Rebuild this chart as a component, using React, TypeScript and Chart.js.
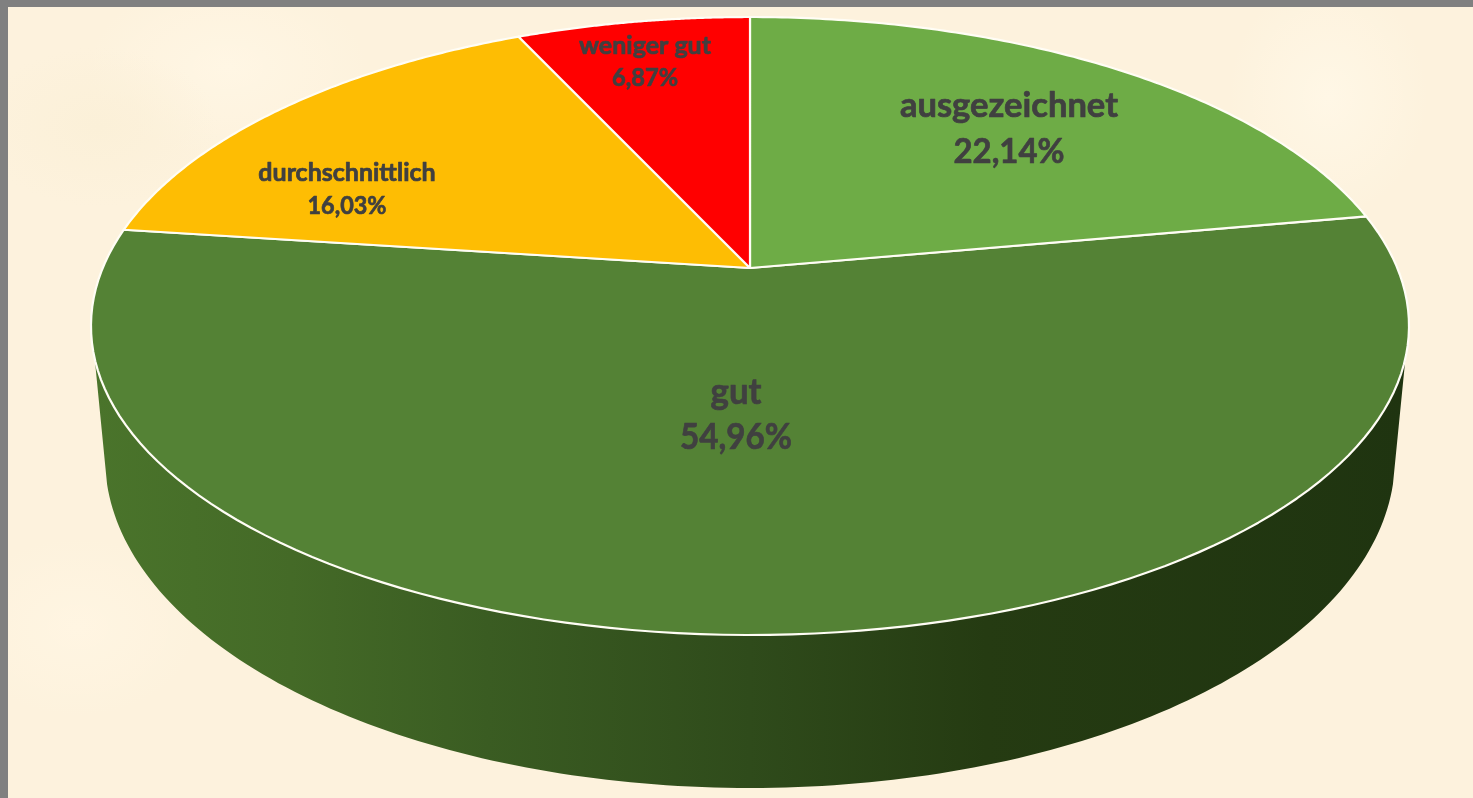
import React, { useEffect, useRef } from "react";
import { Chart, registerables } from "chart.js";

Chart.register(...registerables);

// --- data ---
const categories = ["ausgezeichnet", "gut", "durchschnittlich", "weniger gut"];
const shares = [22.14, 54.96, 16.03, 6.87];

// --- styles ---
const sliceColors = ["#6EAC46", "#548235", "#FEBD03", "#FF0000"];
const labelFontSizes = [35, 37, 25, 25];
const labelWidths = [
  [218, 111],
  [51, 112],
  [179, 79],
  [132, 66],
];
const labelCentres = [
  [1009, 106, 152],
  [736, 392, 437],
  [347, 173, 206],
  [645, 46, 78],
];

// --- perspective of the pie's top face: unit disc -> page ---
const APEX_X = 750;
const APEX_Y = 268;
const SCALE_X = 647.3;
const SCALE_Y = 298.1;
const TILT = -0.1877;

const project = (u: number, v: number): [number, number] => {
  const d = 1 + TILT * v;
  return [APEX_X + (SCALE_X * u) / d, APEX_Y + (SCALE_Y * v) / d];
};
const rim = (angle: number): [number, number] => {
  const t = angle + Math.PI / 2;
  return project(Math.sin(t), -Math.cos(t));
};

const tracePlugin = {
  id: "perspectivePie",
  beforeDatasetDraw(chart: any) {
    const ctx = chart.ctx as CanvasRenderingContext2D;
    const arcs = chart.getDatasetMeta(0).data as any[];

    // side wall under the front rim
    ctx.save();
    const wall = ctx.createLinearGradient(95, 0, 1405, 0);
    wall.addColorStop(0, "#4a742b");
    wall.addColorStop(0.15, "#446a27");
    wall.addColorStop(0.3, "#3a5c22");
    wall.addColorStop(0.5, "#2f4b1b");
    wall.addColorStop(0.68, "#253b12");
    wall.addColorStop(1, "#1f3410");
    ctx.beginPath();
    const steps = 160;
    const a0 = -0.02;
    const a1 = Math.PI + 0.02;
    // top rim right -> left (clockwise over the front)
    const startA = -Math.PI / 2 + 1.86;
    const endA = -Math.PI / 2 + 4.42;
    for (let i = 0; i <= steps; i++) {
      const [x, y] = rim(startA + ((endA - startA) * i) / steps);
      if (i === 0) ctx.moveTo(x, y);
      else ctx.lineTo(x, y);
    }
    // bottom rim left -> right
    for (let i = 0; i <= steps; i++) {
      const t = a1 - 0.1 - ((a1 - a0 - 0.2) * i) / steps;
      ctx.lineTo(750 + 645 * Math.cos(t), 458 + 330 * Math.sin(t));
    }
    ctx.closePath();
    ctx.fillStyle = wall;
    ctx.fill();
    ctx.restore();

    // top face slices, from the angles the library computed
    const order = [1, 0, 2, 3];
    order.forEach((i) => {
      const arc = arcs[i];
      ctx.beginPath();
      ctx.moveTo(APEX_X, APEX_Y);
      const n = 120;
      for (let k = 0; k <= n; k++) {
        const [x, y] = rim(arc.startAngle + ((arc.endAngle - arc.startAngle) * k) / n);
        ctx.lineTo(x, y);
      }
      ctx.closePath();
      ctx.fillStyle = arc.options.backgroundColor;
      ctx.fill();
      ctx.strokeStyle = "#fffdf5";
      ctx.lineWidth = 2.2;
      ctx.lineJoin = "round";
      ctx.stroke();
    });
    return false;
  },
  afterDatasetsDraw(chart: any) {
    const ctx = chart.ctx as CanvasRenderingContext2D;
    ctx.save();
    ctx.fillStyle = "#404040";
    ctx.strokeStyle = "#404040";
    ctx.lineWidth = 0.7;
    ctx.lineJoin = "round";
    ctx.textAlign = "center";
    ctx.textBaseline = "middle";
    categories.forEach((name, i) => {
      const [x, y1, y2] = labelCentres[i];
      ctx.font = `bold ${labelFontSizes[i]}px Lato, "Open Sans", sans-serif`;
      ctx.fillText(name, x, y1, labelWidths[i][0]);
      ctx.strokeText(name, x, y1, labelWidths[i][0]);
      const pct = shares[i].toFixed(2).replace(".", ",") + "%";
      ctx.fillText(pct, x, y2, labelWidths[i][1]);
      ctx.strokeText(pct, x, y2, labelWidths[i][1]);
    });
    ctx.restore();
  },
};

export default function App() {
  const ref = useRef<HTMLCanvasElement>(null);
  useEffect(() => {
    const chart = new Chart(ref.current!, {
      type: "pie",
      data: {
        labels: categories,
        datasets: [{ data: shares, backgroundColor: sliceColors }],
      },
      options: {
        responsive: false,
        animation: false,
        plugins: { legend: { display: false }, tooltip: { enabled: false } },
      },
      plugins: [tracePlugin],
    } as any);
    return () => chart.destroy();
  }, []);
  return (
    <div style={{ position: "fixed", left: 0, top: 0, width: 1473, height: 798, background: "#808080", overflow: "hidden" }}>
      <div
        style={{
          position: "absolute",
          left: 8,
          top: 7,
          right: 0,
          bottom: 0,
          background:
            "radial-gradient(ellipse 120px 80px at 90px 120px, #fbf0d8 0%, rgba(251,240,216,0) 100%), radial-gradient(ellipse 140px 90px at 220px 60px, #fff6e4 0%, rgba(255,246,228,0) 100%), radial-gradient(ellipse 100px 120px at 1320px 90px, #fff7e6 0%, rgba(255,247,230,0) 100%), radial-gradient(ellipse 120px 90px at 70px 620px, #fff5e2 0%, rgba(255,245,226,0) 100%), #fdf2dd",
        }}
      />
      <canvas ref={ref} width={1473} height={798} style={{ position: "absolute", left: 0, top: 0, display: "block" }} />
    </div>
  );
}
